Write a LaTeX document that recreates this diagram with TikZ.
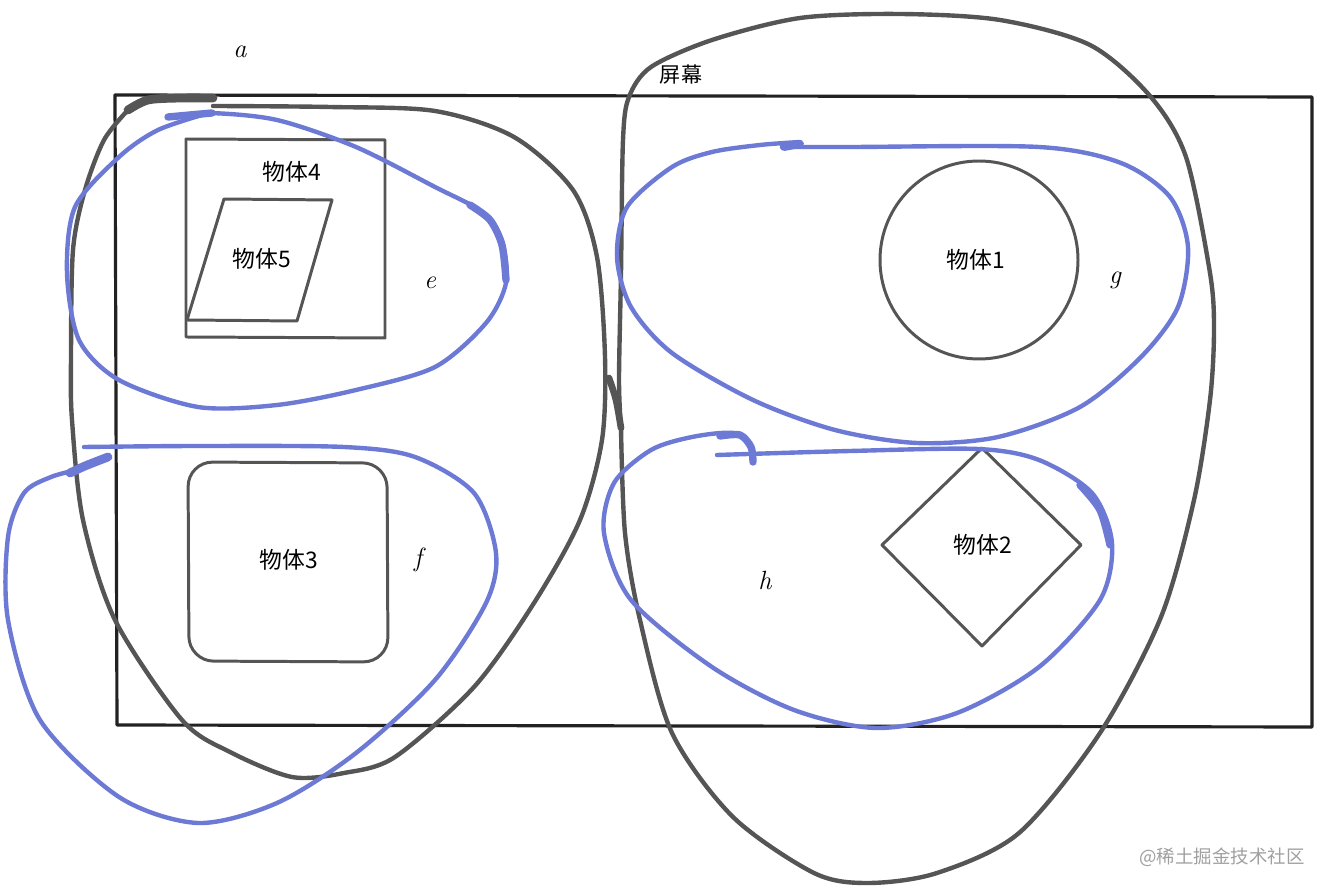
\documentclass[tikz,border=0pt]{standalone}
\usepackage{fontspec}
\newfontfamily\cjk{Noto Sans CJK SC}
\definecolor{penblue}{RGB}{108,122,214}
\definecolor{pengray}{RGB}{85,85,85}
\definecolor{penblack}{RGB}{34,34,34}
\definecolor{wmgray}{RGB}{160,160,160}
\tikzset{
  screenbox/.style={draw=penblack,line width=1.8pt,line join=round},
  objshape/.style={draw=pengray,line width=1.7pt,line join=round},
  grayloop/.style={draw=pengray,line width=2.5pt,line cap=round,line join=round},
  blueloop/.style={draw=penblue,line width=2.5pt,line cap=round,line join=round},
  objlabel/.style={font=\cjk\fontsize{13}{15}\selectfont,text=black,inner sep=0pt},
  letterlabel/.style={font=\itshape\fontsize{15}{17}\selectfont,text=black,inner sep=0pt},
}
\begin{document}
\begin{tikzpicture}[x=0.02cm,y=-0.02cm]
\useasboundingbox (0,0) rectangle (1326,891);
% screen rectangle
\draw[screenbox] (115,95) -- (1312,97) -- (1312,727) -- (117,725) -- cycle;
% object 4 square
\draw[objshape] (186,139) -- (385,140) -- (385,338) -- (186,337) -- cycle;
% object 5 parallelogram
\draw[objshape] (224,199) -- (332,200) -- (297,321) -- (187,320) -- cycle;
% object 3 rounded square
\draw[objshape,rounded corners=14] (188,462) -- (387,463) -- (388,662) -- (189,661) -- cycle;
% object 1 circle
\draw[objshape] (979,260) circle[radius=99];
% object 2 diamond
\draw[objshape] (982,448) -- (1081,545) -- (982,646) -- (882,545) -- cycle;
% labels
\node[objlabel] (o4) at (292,172) {物体4};
\node[objlabel] (o5) at (262,259) {物体5};
\node[objlabel] (o3) at (289,560) {物体3};
\node[objlabel] (o1) at (976,260) {物体1};
\node[objlabel] (o2) at (983,545) {物体2};
\node[objlabel,font=\cjk\fontsize{12}{14}\selectfont] (scr) at (681,75) {屏幕};
\node[letterlabel] (la) at (240,52) {a};
\node[letterlabel] (le) at (430,283) {e};
\node[letterlabel] (lf) at (418,560) {f};
\node[letterlabel] (lg) at (1115,280) {g};
\node[letterlabel] (lh) at (765,580) {h};
% gray loop a
\draw[grayloop,line width=5pt] plot[smooth] coordinates {(128,110) (148,100) (180,98) (213,98)};
\draw[grayloop] plot[smooth] coordinates {(213,106) (330,107) (435,111) (514,137) (573,190) (597,257) (605,357) (602,440) (580,520) (534,603) (474,687) (395,757) (344,773) (292,777) (230,752) (182,720) (115,620) (83,520) (72,420) (71,357) (73,250) (85,190) (104,140) (128,110)};
% gray loop screen
\draw[grayloop,line width=3.8pt] plot[smooth] coordinates {(609,378) (616,400) (621,428)};
\draw[grayloop] plot[smooth] coordinates {(621,428) (625,533) (640,620) (672,733) (733,817) (814,873) (868,883) (937,873) (1019,833) (1100,733) (1161,617) (1194,500) (1210,400) (1214,330) (1210,273) (1186,157) (1150,96) (1090,45) (1000,20) (900,14) (800,18) (712,40) (651,67) (629,97) (623,140) (621,273) (619,380) (621,428)};
% blue loop e
\draw[blueloop] plot[smooth] coordinates {(168,117) (209,113) (277,120) (356,147) (435,187) (482,212) (502,242) (506,283) (486,323) (435,367) (356,390) (277,405) (198,407) (119,380) (79,340) (67,273) (75,207) (119,157) (158,130) (209,113)};
\draw[blueloop,line width=4.2pt] plot[smooth] coordinates {(470,205) (490,220) (502,245) (506,280)};
\draw[blueloop,line width=4.2pt] plot[smooth] coordinates {(168,117) (190,115) (212,113)};
% blue loop f
\draw[blueloop] plot[smooth] coordinates {(84,447) (200,446) (344,447) (415,457) (474,493) (496,553) (486,603) (435,680) (356,753) (277,803) (198,823) (119,797) (40,720) (8,620) (8,537) (24,493) (51,477) (83,468) (109,457)};
\draw[blueloop,line width=5pt] plot[smooth] coordinates {(70,473) (85,466) (108,457)};
% blue loop g
\draw[blueloop] plot[smooth] coordinates {(782,147) (850,147) (1039,147) (1121,163) (1170,197) (1188,247) (1178,307) (1141,357) (1080,407) (998,437) (917,443) (835,430) (753,400) (672,353) (631,307) (617,257) (627,207) (672,167) (712,152) (760,145) (800,142)};
\draw[blueloop,line width=4.5pt] (784,147) -- (800,144);
% blue loop h
\draw[blueloop] plot[smooth] coordinates {(717,455) (850,451) (978,449) (1039,460) (1092,493) (1112,543) (1100,600) (1039,667) (957,713) (876,728) (794,710) (712,667) (631,600) (604,533) (614,483) (651,450) (692,437) (733,433) (750,446) (753,462)};
\draw[blueloop,line width=4.2pt] plot[smooth] coordinates {(1080,485) (1100,510) (1110,545)};
\draw[blueloop,line width=4.2pt] plot[smooth] coordinates {(720,436) (740,435) (751,447) (753,462)};
% watermark
\node[font=\cjk\fontsize{10.5}{12}\selectfont,text=wmgray,inner sep=0pt] (wm) at (1222,857) {@稀土掘金技术社区};
\end{tikzpicture}
\end{document}
